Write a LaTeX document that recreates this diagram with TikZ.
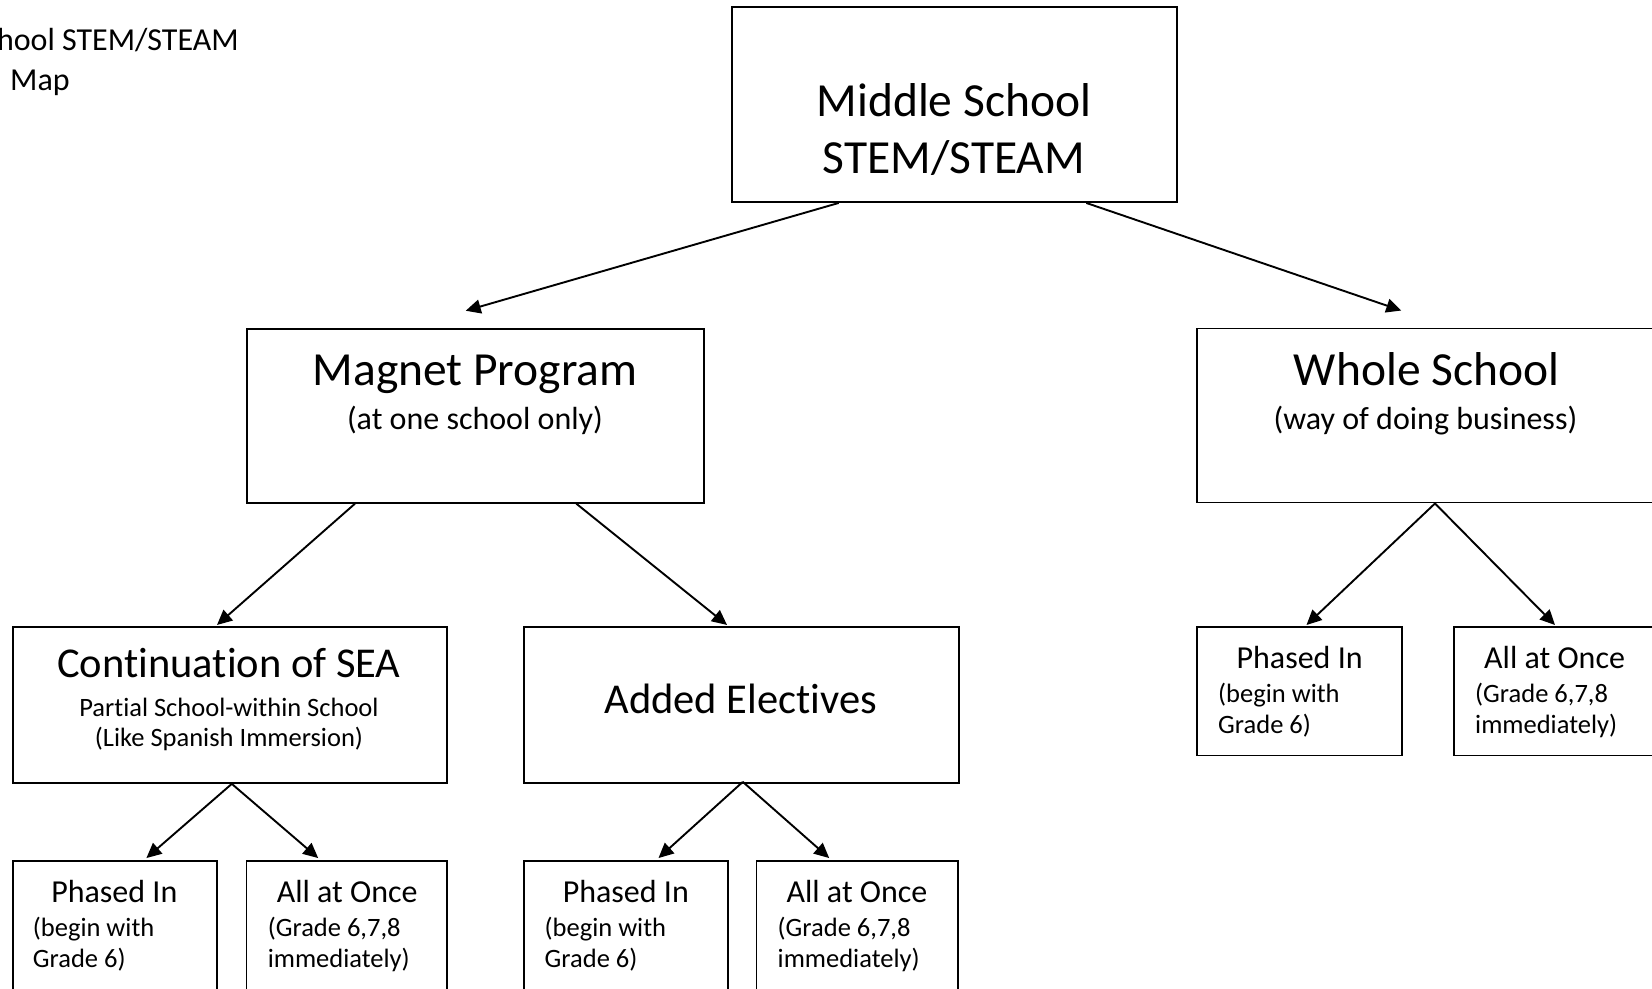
\documentclass[tikz,border=0pt]{standalone}
\usepackage{fontspec}
\setmainfont{Carlito}[Ligatures={NoCommon}]
\usetikzlibrary{arrows.meta}
\begin{document}
\begin{tikzpicture}[x=1pt,y=-1pt,
  box/.style={draw,line width=1.9pt,inner sep=0pt,rectangle},
  conn/.style={line width=1.9pt,-{Triangle[length=15pt,width=14pt]}},
  big/.style={inner sep=0pt,font=\fontsize{47.5}{58}\selectfont},
  midt/.style={inner sep=0pt,font=\fontsize{42.5}{52}\selectfont},
  subt/.style={inner sep=0pt,font=\fontsize{32}{39}\selectfont},
  smallt/.style={inner sep=0pt,font=\fontsize{26.5}{32}\selectfont}]
\useasboundingbox (0,0) rectangle (1652,988);

% corner title
\node[subt,anchor=base east] (ttl1) at (239,50.7) {hool STEM/STEAM};
\node[subt,anchor=base west] (ttl2) at (10,90.5) {Map};

% boxes
\node[box,minimum width=445pt,minimum height=195pt] (top) at (954.5,104.5) {};
\node[box,minimum width=457.3pt,minimum height=174pt] (mag) at (475.2,415.7) {};
\node[box,minimum width=466pt,minimum height=174pt] (whole) at (1430,415.5) {};
\node[box,minimum width=434.1pt,minimum height=156pt] (cont) at (229.7,704.9) {};
\node[box,minimum width=435.2pt,minimum height=156pt] (add) at (741.2,704.9) {};
\node[box,minimum width=204.4pt,minimum height=129pt] (p1) at (114.8,925.5) {};
\node[box,minimum width=200.2pt,minimum height=129pt] (a1) at (346.6,925.5) {};
\node[box,minimum width=204.4pt,minimum height=129pt] (p2) at (625.8,925.5) {};
\node[box,minimum width=201.2pt,minimum height=129pt] (a2) at (857.1,925.5) {};
\node[box,minimum width=205.4pt,minimum height=128.5pt] (p3) at (1299.6,691.2) {};
\node[box,minimum width=205pt,minimum height=128.5pt] (a3) at (1556.5,691.2) {};

% texts
\node[big] (topa) at (954,100) {Middle School};
\node[big] (topb) at (954,158) {STEM/STEAM};
\node[big,anchor=base] (maga) at (475,385) {Magnet Program};
\node[subt,anchor=base] (magb) at (475,429) {(at one school only)};
\node[big,anchor=base] (wha) at (1426.6,385) {Whole School};
\node[subt,anchor=base] (whb) at (1425.5,429) {(way of doing business)};
\node[midt,anchor=base] (conta) at (229,677.7) {Continuation of SEA};
\node[smallt,anchor=base] (contb) at (229,716.5) {Partial School-within School};
\node[smallt,anchor=base] (contc) at (229,746.5) {(Like Spanish Immersion)};
\node[midt,anchor=base] (adda) at (740.7,713) {Added Electives};

\node[subt,anchor=base] (p1a) at (114.3,902.7) {Phased In};
\node[smallt,anchor=base west] (p1b) at (32.7,936.5) {(begin with};
\node[smallt,anchor=base west] (p1c) at (32.7,967.8) {Grade 6)};
\node[subt,anchor=base] (a1a) at (347.2,902.7) {All at Once};
\node[smallt,anchor=base west] (a1b) at (267.6,936.5) {(Grade 6,7,8};
\node[smallt,anchor=base west] (a1c) at (267.6,967.8) {immediately)};

\node[subt,anchor=base] (p2a) at (625.8,902.7) {Phased In};
\node[smallt,anchor=base west] (p2b) at (544.5,936.5) {(begin with};
\node[smallt,anchor=base west] (p2c) at (544.5,967.8) {Grade 6)};
\node[subt,anchor=base] (a2a) at (857,902.7) {All at Once};
\node[smallt,anchor=base west] (a2b) at (777.5,936.5) {(Grade 6,7,8};
\node[smallt,anchor=base west] (a2c) at (777.5,967.8) {immediately)};

\node[subt,anchor=base] (p3a) at (1299.6,668.2) {Phased In};
\node[smallt,anchor=base west] (p3b) at (1218,702) {(begin with};
\node[smallt,anchor=base west] (p3c) at (1218,733.2) {Grade 6)};
\node[subt,anchor=base] (a3a) at (1554.6,668.2) {All at Once};
\node[smallt,anchor=base west] (a3b) at (1475,702) {(Grade 6,7,8};
\node[smallt,anchor=base west] (a3c) at (1475,733.2) {immediately)};

% connectors
\draw[conn] ([xshift=-115.8pt]top.south) -- ([xshift=-9.5pt,yshift=17pt]mag.north);
\draw[conn] ([xshift=131.8pt]top.south) -- ([xshift=-28.7pt,yshift=17pt]whole.north);
\draw[conn] ([xshift=-120.2pt]mag.south) -- ([xshift=-12.7pt,yshift=1pt]cont.north);
\draw[conn] ([xshift=101.1pt]mag.south) -- ([xshift=-14.2pt,yshift=1pt]add.north);
\draw[conn] ([xshift=5pt]whole.south) -- ([xshift=6.9pt,yshift=1pt]p3.north);
\draw[conn] ([xshift=5pt]whole.south) -- ([xshift=-1.5pt,yshift=1pt]a3.north);
\draw[conn] ([xshift=2.1pt]cont.south) -- ([xshift=31.6pt,yshift=2pt]p1.north);
\draw[conn] ([xshift=2.1pt]cont.south) -- ([xshift=-28.4pt,yshift=2pt]a1.north);
\draw[conn] ([xshift=1.6pt,yshift=2pt]add.south) -- ([xshift=32.7pt,yshift=2pt]p2.north);
\draw[conn] ([xshift=1.6pt,yshift=2pt]add.south) -- ([xshift=-27.9pt,yshift=2pt]a2.north);
\end{tikzpicture}
\end{document}
